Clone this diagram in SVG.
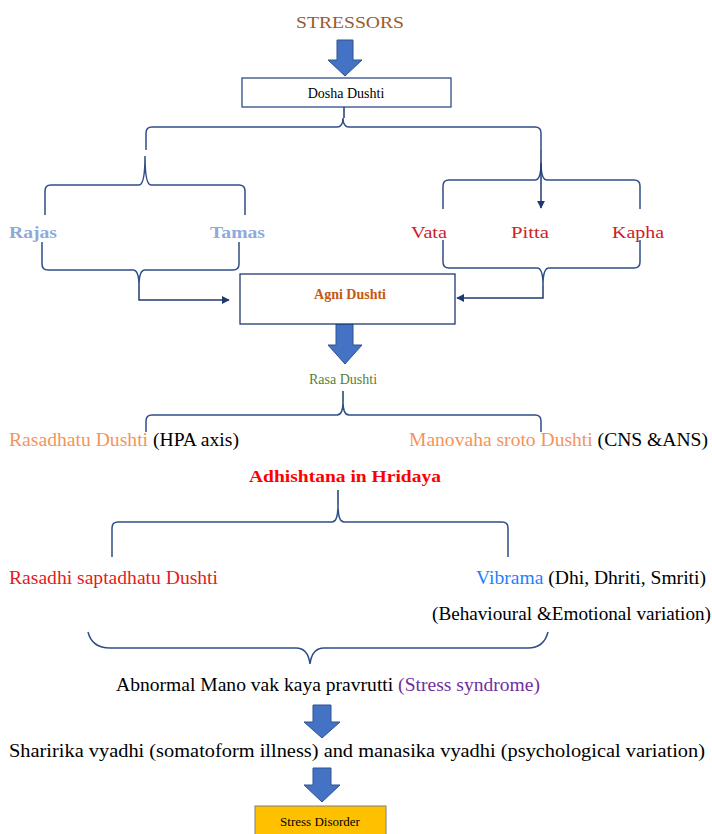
<svg xmlns="http://www.w3.org/2000/svg" width="712" height="834" viewBox="0 0 712 834">
<style>
text{font-family:"Liberation Serif","Times New Roman",serif;font-size:16px;fill:#000}
.l{font-size:18px}
.brace{fill:none;stroke:#2F4E86;stroke-width:1.5}
.conn{fill:none;stroke:#1F3A70;stroke-width:1.5}
.block{fill:#4472C4;stroke:#2F528F;stroke-width:1}
.box{fill:#fff;stroke:#2F4E86;stroke-width:1.3}
</style>
<defs>
<marker id="ah" viewBox="0 0 10 10" refX="9" refY="5" markerWidth="8" markerHeight="8" markerUnits="userSpaceOnUse" orient="auto">
<path d="M0,0 L10,5 L0,10 z" fill="#1F3A70"/>
</marker>
</defs>
<rect width="712" height="834" fill="#fff"/>

<g id="connectors">
<path class="block" d="M337,40 H353 V60 H362 L345,76 L328,60 H337 Z"/>
<path class="block" d="M336,324 H353 V345 H362 L345,364 L328,345 H336 Z"/>
<path class="block" d="M313,705 H331 V722 H340 L322,738 L304,722 H313 Z"/>
<path class="block" d="M313,768 H331 V785 H340 L322,802 L304,785 H313 Z"/>
<path class="conn" d="M344,107 V118"/>
<path class="brace" d="M146,150 V133 Q146,127 152,127 H337 Q343,127 343,118 Q343,127 349,127 H535 Q541,127 541,133 V150"/>
<path class="brace" d="M45,215 V191 Q45,185 51,185 H139 Q145,185 145,156 Q145,185 151,185 H239 Q245,185 245,191 V215"/>
<path class="brace" d="M443,209 V186 Q443,180 449,180 H535 Q541,180 541,163 Q541,180 547,180 H634 Q640,180 640,186 V209"/>
<path class="conn" d="M541,150 V208" marker-end="url(#ah)"/>
<path class="brace" d="M42,242 V264 Q42,270 48,270 H133 Q139,270 139,286 Q139,270 145,270 H233 Q239,270 239,264 V242"/>
<path class="conn" d="M139,286 V300 H229" marker-end="url(#ah)"/>
<path class="brace" d="M443,240 V262 Q443,268 449,268 H537 Q543,268 543,285 Q543,268 549,268 H634 Q640,268 640,262 V240"/>
<path class="conn" d="M543,285 V298 H457" marker-end="url(#ah)"/>
<path class="conn" d="M343,391 V402"/>
<path class="brace" d="M146,432 V421 Q146,415 152,415 H337 Q343,415 343,402 Q343,415 349,415 H535 Q541,415 541,421 V432"/>
<path class="conn" d="M338,490 V505"/>
<path class="brace" d="M112,557 V528 Q112,522 118,522 H332 Q338,522 338,505 Q338,522 344,522 H502 Q508,522 508,528 V557"/>
<path class="brace" d="M88,632 Q92,648 110,648 H296 Q308,648 310,664 Q312,648 324,648 H528 Q544,648 548,632"/>
</g>

<g id="stressors"><text x="350" y="28" text-anchor="middle" style="font-size:17px;fill:#9C5A2C" textLength="108" lengthAdjust="spacingAndGlyphs">STRESSORS</text></g>

<g id="dosha-dushti">
<rect class="box" x="242" y="78" width="209" height="29"/>
<text x="346" y="98" text-anchor="middle" style="font-size:14px">Dosha Dushti</text>
</g>

<g id="rajas"><text x="9" y="238" style="font-size:17px;font-weight:bold;fill:#8EAADB" textLength="48" lengthAdjust="spacingAndGlyphs">Rajas</text></g>
<g id="tamas"><text x="210" y="238" style="font-size:17px;font-weight:bold;fill:#8EAADB" textLength="55" lengthAdjust="spacingAndGlyphs">Tamas</text></g>
<g id="vata"><text x="411" y="238" style="font-size:17px;fill:#D0202A" textLength="36" lengthAdjust="spacingAndGlyphs">Vata</text></g>
<g id="pitta"><text x="511" y="238" style="font-size:17px;fill:#D0202A" textLength="38" lengthAdjust="spacingAndGlyphs">Pitta</text></g>
<g id="kapha"><text x="612" y="238" style="font-size:17px;fill:#D0202A" textLength="52" lengthAdjust="spacingAndGlyphs">Kapha</text></g>

<g id="agni-dushti">
<rect class="box" x="240" y="274" width="215" height="50" style="stroke:#1F3A70"/>
<text x="350" y="299" text-anchor="middle" style="font-size:14px;font-weight:bold;fill:#C55A11">Agni Dushti</text>
</g>

<g id="rasa-dushti"><text x="343" y="384" text-anchor="middle" style="font-size:14px;fill:#538135">Rasa Dushti</text></g>

<g id="rasadhatu"><text class="l" x="9" y="446" textLength="230" lengthAdjust="spacingAndGlyphs"><tspan style="fill:#F4945A">Rasadhatu Dushti</tspan> (HPA axis)</text></g>
<g id="manovaha"><text class="l" x="409" y="446" textLength="299" lengthAdjust="spacingAndGlyphs"><tspan style="fill:#F4945A">Manovaha sroto Dushti</tspan> (CNS &amp;ANS)</text></g>

<g id="adhishtana"><text x="345" y="482" text-anchor="middle" style="font-size:17px;font-weight:bold;fill:#FF0000" textLength="192" lengthAdjust="spacingAndGlyphs">Adhishtana in Hridaya</text></g>

<g id="rasadhi"><text class="l" x="9" y="584" style="fill:#E31B23" textLength="209" lengthAdjust="spacingAndGlyphs">Rasadhi saptadhatu Dushti</text></g>
<g id="vibrama">
<text class="l" x="476" y="584" textLength="230" lengthAdjust="spacingAndGlyphs"><tspan style="fill:#1E7FFF">Vibrama</tspan> (Dhi, Dhriti, Smriti)</text>
<text class="l" x="432" y="620" textLength="279" lengthAdjust="spacingAndGlyphs">(Behavioural &amp;Emotional variation)</text>
</g>

<g id="abnormal"><text class="l" x="116" y="691" textLength="424" lengthAdjust="spacingAndGlyphs">Abnormal Mano vak kaya pravrutti <tspan style="fill:#7030A0">(Stress syndrome)</tspan></text></g>

<g id="sharirika"><text class="l" x="9" y="757" textLength="696" lengthAdjust="spacingAndGlyphs">Sharirika vyadhi (somatoform illness) and manasika vyadhi (psychological variation)</text></g>

<g id="stress-disorder">
<rect x="255" y="806" width="131" height="32" fill="#FFC000" stroke="#7F7F7F" stroke-width="1"/>
<text x="320" y="826" text-anchor="middle" style="font-size:13px">Stress Disorder</text>
</g>
</svg>
